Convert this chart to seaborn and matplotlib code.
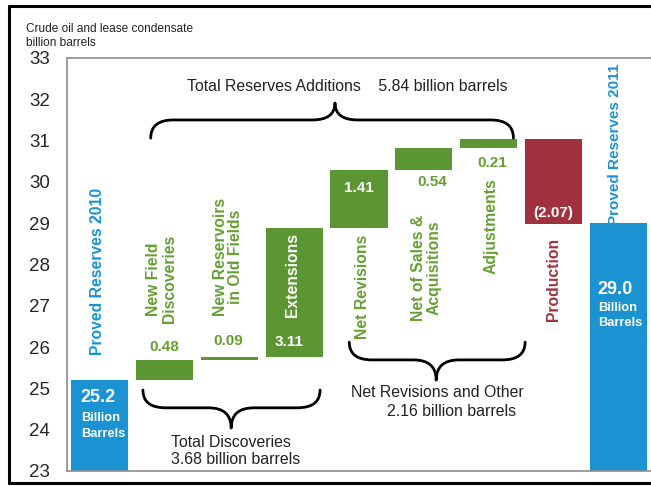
import numpy as np
import pandas as pd
import matplotlib
matplotlib.use("Agg")
import matplotlib.pyplot as plt
from matplotlib.path import Path
from matplotlib.patches import PathPatch
from matplotlib.lines import Line2D
import seaborn as sns

# ---- data ----
categories = ["Proved Reserves 2010", "New Field\nDiscoveries", "New Reservoirs\nin Old Fields",
              "Extensions", "Net Revisions", "Net of Sales &\nAcquisitions", "Adjustments",
              "Production", "Proved Reserves 2011"]
start_value = 25.2
changes = [0.48, 0.09, 3.11, 1.41, 0.54, 0.21, -2.07]
end_value = 29.0
value_labels = ["25.2", "0.48", "0.09", "3.11", "1.41", "0.54", "0.21", "(2.07)", "29.0"]
y_ticks = [23, 24, 25, 26, 27, 28, 29, 30, 31, 32, 33]
y_base = 23

# ---- derived waterfall geometry ----
levels = np.concatenate([[start_value], start_value + np.cumsum(changes)])
bottoms = [y_base]
heights = [start_value - y_base]
for i, c in enumerate(changes):
    lo = min(levels[i], levels[i + 1])
    bottoms.append(lo)
    heights.append(abs(c))
bottoms.append(y_base)
heights.append(end_value - y_base)

BLUE = "#1B93D3"
GREEN = "#5C9632"
GREEN_TXT = "#66A033"
RED = "#A2313F"
colors = [BLUE] + [GREEN] * 6 + [RED] + [BLUE]

sns.set_style("white")
plt.rcParams["font.family"] = ["Liberation Sans", "DejaVu Sans"]

fig = plt.figure(figsize=(6.51, 4.86), dpi=100)
W, H = 651, 486
ax = fig.add_axes([67 / W, (H - 471) / H, (W - 67) / W, (471 - 58) / H])

df = pd.DataFrame({"cat": categories, "h": heights})
sns.barplot(data=df, x="cat", y="h", bottom=bottoms, width=0.88, ax=ax,
            order=categories, color=BLUE, edgecolor="none", linewidth=0)
for p, c in zip(ax.patches, colors):
    p.set_facecolor(c)

ax.set_xlim(-0.5, 8.416)
ax.set_ylim(23, 33)
ax.set_yticks(y_ticks)
ax.set_yticklabels([str(t) for t in y_ticks], fontsize=13.5)
ax.tick_params(axis="y", length=0, pad=12)
ax.set_xticks(np.arange(-0.5, 9, 1.0))
ax.set_xticklabels([])
ax.tick_params(axis="x", length=4, direction="out", color="#888888", width=1)
ax.set_xlabel("")
ax.set_ylabel("")
for s in ["left", "bottom", "top"]:
    ax.spines[s].set_color("#8c8c8c")
    ax.spines[s].set_linewidth(1.2)
ax.spines["right"].set_visible(False)

# ---- category labels (rotated) ----
bold = dict(fontweight="bold", rotation=90, ha="center", va="center", multialignment="center",
            fontsize=11.3, linespacing=1.05)
ax.text(-0.03, 27.84, categories[0], color=BLUE, **bold)
ax.text(0.96, 27.65, categories[1], color=GREEN_TXT, **bold)
ax.text(1.98, 28.18, categories[2], color=GREEN_TXT, **bold)
ax.text(2.98, 27.75, categories[3], color="white", **bold)
ax.text(4.05, 27.46, categories[4], color=GREEN_TXT, **bold)
ax.text(5.04, 27.93, categories[5], color=GREEN_TXT, **bold)
ax.text(6.03, 28.93, categories[6], color=GREEN_TXT, **bold)
ax.text(7.0, 27.65, categories[7], color=RED, **bold)
ax.text(7.95, 30.9, categories[8], color=BLUE, fontweight="bold", rotation=90, ha="center",
        va="center", fontsize=11)

# ---- value labels ----
vb = dict(fontweight="bold", ha="center", va="center", fontsize=11)
ax.text(1.0, 26.0, value_labels[1], color=GREEN_TXT, **vb)
ax.text(1.98, 26.15, value_labels[2], color=GREEN_TXT, **vb)
ax.text(2.92, 26.13, value_labels[3], color="white", **vb)
ax.text(4.0, 29.85, value_labels[4], color="white", **vb)
ax.text(5.13, 30.0, value_labels[5], color=GREEN_TXT, **vb)
ax.text(6.05, 30.46, value_labels[6], color=GREEN_TXT, **vb)
ax.text(6.99, 29.25, value_labels[7], color="white", **vb)

big = dict(color="white", fontweight="bold", fontsize=13, ha="left", va="center")
small = dict(color="white", fontweight="bold", fontsize=9.3, ha="left", va="center")
ax.text(-0.29, 24.77, value_labels[0], **big)
ax.text(-0.29, 24.28, "Billion", **small)
ax.text(-0.29, 23.9, "Barrels", **small)
ax.text(7.68, 27.4, value_labels[8], **big)
ax.text(7.68, 26.95, "Billion", **small)
ax.text(7.68, 26.58, "Barrels", **small)


# ---- braces ----
def brace(x0, x1, xt, ye, yh, yt, r=0.35):
    verts = [(x0, ye), (x0, yh), (x0 + r, yh),
             (xt - r, yh),
             (xt, yh), (xt, yt),
             (xt, yh), (xt + r, yh),
             (x1 - r, yh),
             (x1, yh), (x1, ye)]
    codes = [Path.MOVETO, Path.CURVE3, Path.CURVE3,
             Path.LINETO,
             Path.CURVE3, Path.CURVE3,
             Path.CURVE3, Path.CURVE3,
             Path.LINETO,
             Path.CURVE3, Path.CURVE3]
    ax.add_patch(PathPatch(Path(verts, codes), fill=False, lw=2.0, color="black",
                           capstyle="round", joinstyle="round"))


brace(0.79, 6.38, 3.63, 31.06, 31.5, 31.91)
brace(0.67, 3.40, 2.03, 24.96, 24.53, 24.04)
brace(3.85, 6.56, 5.19, 26.12, 25.69, 25.20)

ann = dict(fontsize=11.4, color="#222222", va="center")
ax.text(3.82, 32.32, "Total Reserves Additions    5.84 billion barrels", ha="center", **ann)
ax.text(1.10, 23.48, "Total Discoveries\n3.68 billion barrels", ha="left", linespacing=1.15, **ann)
ax.text(3.88, 24.89, "Net Revisions and Other", ha="left", **ann)
ax.text(4.43, 24.43, "2.16 billion barrels", ha="left", **ann)

# ---- header text ----
fig.text(26 / W, 1 - 36 / H, "Crude oil and lease condensate\nbillion barrels", fontsize=8.6,
         ha="left", va="center", color="#222222", linespacing=1.25)

# ---- outer frame ----
lw = 2.2
fig.add_artist(Line2D([9 / W, 9 / W], [1 - 6 / H, 1 - 483 / H], color="black", lw=lw,
                      transform=fig.transFigure))
fig.add_artist(Line2D([9 / W, 1.0], [1 - 6 / H, 1 - 6 / H], color="black", lw=lw,
                      transform=fig.transFigure))
fig.add_artist(Line2D([9 / W, 1.0], [1 - 483 / H, 1 - 483 / H], color="black", lw=lw,
                      transform=fig.transFigure))

fig.savefig("out.png", dpi=100)
